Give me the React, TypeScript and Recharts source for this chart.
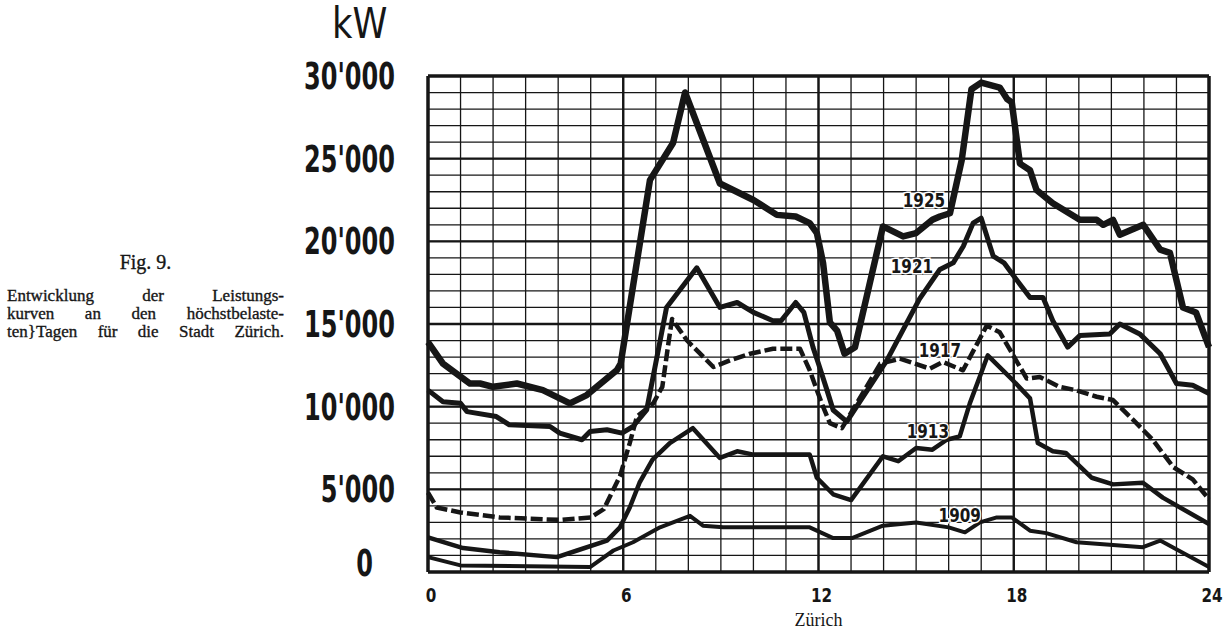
import React from 'react';
import {
  LineChart,
  Line,
  XAxis,
  YAxis,
  CartesianGrid,
  ReferenceLine,
  ReferenceDot,
} from 'recharts';

// hours of the day and load in kW
const hours1925 = [0, 0.46, 1.29, 1.6, 2.0, 2.73, 3.53, 4.36, 4.88, 5.8, 5.92, 6.82, 7.53, 7.9, 8.97, 10.0, 10.72, 11.3, 11.73, 11.95, 12.14, 12.35, 12.57, 12.8, 13.12, 13.98, 14.6, 15.0, 15.5, 15.73, 16.04, 16.4, 16.7, 17.0, 17.57, 17.8, 17.94, 18.19, 18.5, 18.7, 19.2, 20.03, 20.55, 20.75, 21.05, 21.26, 21.98, 22.5, 22.8, 23.2, 23.6, 24];
const kw1925 = [13900, 12600, 11400, 11400, 11200, 11400, 11000, 10200, 10700, 12200, 12600, 23700, 25950, 29000, 23500, 22500, 21600, 21500, 21100, 20500, 18700, 15100, 14600, 13200, 13600, 20900, 20300, 20500, 21300, 21500, 21700, 24900, 29200, 29600, 29300, 28600, 28400, 24700, 24300, 23100, 22300, 21300, 21300, 21000, 21300, 20400, 21000, 19500, 19300, 16000, 15700, 13600];

const hours1921 = [0, 0.46, 1.0, 1.2, 2.1, 2.5, 3.75, 4.05, 4.73, 4.98, 5.5, 5.96, 6.3, 6.72, 7.33, 8.26, 8.97, 9.5, 10.0, 10.6, 10.85, 11.3, 11.55, 11.83, 12.0, 12.26, 12.45, 12.87, 14.1, 15.1, 15.73, 16.14, 16.45, 16.75, 17.0, 17.37, 17.7, 18.0, 18.5, 18.9, 19.2, 19.66, 20.03, 20.95, 21.26, 21.87, 22.5, 23.0, 23.5, 24];
const kw1921 = [11000, 10300, 10200, 9700, 9400, 8900, 8800, 8400, 8000, 8500, 8600, 8400, 8800, 9800, 16000, 18400, 16000, 16300, 15700, 15200, 15200, 16300, 15700, 13600, 12600, 11000, 9800, 9100, 12800, 16500, 18300, 18700, 19700, 21100, 21400, 19100, 18700, 17900, 16600, 16600, 15200, 13600, 14300, 14400, 15000, 14400, 13200, 11400, 11300, 10800];

const hours1917 = [0, 0.27, 1.0, 2.2, 4.05, 5.0, 5.4, 5.7, 5.9, 6.2, 6.42, 6.92, 7.2, 7.4, 7.5, 7.96, 8.77, 9.28, 9.9, 10.6, 11.43, 11.73, 11.95, 12.14, 12.35, 12.72, 13.9, 14.5, 15.42, 15.82, 16.44, 17.17, 17.57, 18.4, 18.8, 19.4, 19.9, 20.55, 21.05, 21.67, 22.27, 22.9, 23.5, 24];
const kw1917 = [4800, 3900, 3600, 3300, 3150, 3300, 3800, 5000, 5800, 7800, 9400, 10200, 11200, 14000, 15300, 14000, 12400, 12800, 13200, 13500, 13500, 12200, 11000, 10000, 9000, 8700, 12600, 12900, 12300, 12700, 12200, 14900, 14500, 11700, 11800, 11200, 11000, 10600, 10400, 9200, 8000, 6350, 5600, 4400];

const hours1913 = [0, 1.08, 2.2, 3.96, 4.58, 5.5, 5.9, 6.2, 6.5, 6.9, 7.43, 8.14, 8.97, 9.5, 10.0, 11.73, 11.95, 12.45, 13.0, 13.98, 14.45, 15.0, 15.5, 15.94, 16.34, 16.65, 17.2, 17.97, 18.5, 18.74, 19.2, 19.6, 20.4, 21.05, 21.97, 22.58, 24];
const kw1913 = [2100, 1450, 1200, 900, 1300, 1900, 2700, 3900, 5400, 6800, 7800, 8700, 6900, 7300, 7100, 7100, 5700, 4700, 4350, 7000, 6700, 7500, 7400, 8000, 8200, 10200, 13100, 11600, 10500, 7800, 7300, 7200, 5700, 5300, 5400, 4500, 2900];

const hours1909 = [0, 1.0, 4.98, 5.7, 6.3, 7.13, 8.05, 8.45, 9.07, 11.73, 12.45, 13.03, 13.98, 15.0, 16.0, 16.5, 16.96, 17.48, 17.94, 18.5, 19.0, 19.93, 21.97, 22.5, 24];
const kw1909 = [900, 400, 300, 1300, 1800, 2700, 3400, 2800, 2700, 2700, 2050, 2050, 2800, 3000, 2700, 2400, 3000, 3300, 3300, 2500, 2350, 1800, 1500, 1900, 300];

// curve labels: text, hour, kW
const curveNames = ['1925', '1921', '1917', '1913', '1909'];
const nameHours = [15.24, 14.87, 15.73, 15.36, 16.34];
const nameKw = [22500, 18500, 13400, 8500, 3400];

// grid every hour / every 1000 kW, labels every 6 h / 5000 kW
const hourTicks = [0, 1, 2, 3, 4, 5, 6, 7, 8, 9, 10, 11, 12, 13, 14, 15, 16, 17, 18, 19, 20, 21, 22, 23, 24];
const hourLabels = [0, 6, 12, 18, 24];
const kwTicks = [0, 1000, 2000, 3000, 4000, 5000, 6000, 7000, 8000, 9000, 10000, 11000, 12000, 13000, 14000, 15000, 16000, 17000, 18000, 19000, 20000, 21000, 22000, 23000, 24000, 25000, 26000, 27000, 28000, 29000, 30000];
const kwMajor = [0, 5000, 10000, 15000, 20000, 25000, 30000];
const kwLabels = ['0', "5'000", "10'000", "15'000", "20'000", "25'000", "30'000"];

const captionLines = ['Entwicklung der Leistungs-', 'kurven an den höchstbelaste-', 'ten}Tagen für die Stadt Zürich.'];

const INK = '#161616';
const NUM_FONT = '"DejaVu Sans", sans-serif';
const SERIF = '"Liberation Serif", "DejaVu Serif", serif';

const toRows = (hours: number[], kw: number[]) => hours.map((h, i) => ({ h, kw: kw[i] }));

function KwTick({ x, y, payload }: any) {
  const i = kwMajor.indexOf(payload.value);
  if (i < 0) return null;
  // the printed zero sits a bit left of and above the others
  const dx = payload.value === 0 ? -22 : 0;
  const dy = payload.value === 0 ? -9 : 0;
  return (
    <text
      transform={`translate(${x + dx},${y + dy}) scale(0.65,1)`}
      textAnchor="end"
      dominantBaseline="central"
      fontFamily={NUM_FONT}
      fontWeight={700}
      fontSize={37}
      fill={INK}
    >
      {kwLabels[i]}
    </text>
  );
}

function HourTick({ x, y, payload }: any) {
  if (!hourLabels.includes(payload.value)) return null;
  return (
    <text
      transform={`translate(${x + 3},${y}) scale(0.8,1)`}
      textAnchor="middle"
      dominantBaseline="central"
      fontFamily={NUM_FONT}
      fontWeight={700}
      fontSize={19}
      fill={INK}
    >
      {payload.value}
    </text>
  );
}

function CurveName({ cx, cy, text }: { cx?: number; cy?: number; text: string }) {
  if (cx == null || cy == null) return null;
  return (
    <text
      transform={`translate(${cx},${cy}) scale(0.8,1)`}
      textAnchor="middle"
      dominantBaseline="central"
      fontFamily={NUM_FONT}
      fontWeight={700}
      fontSize={19}
      fill={INK}
      stroke="#fff"
      strokeWidth={3}
      paintOrder="stroke"
    >
      {text}
    </text>
  );
}

export default function App() {
  const series = [
    { key: '1925', rows: toRows(hours1925, kw1925), width: 6.5, dash: undefined },
    { key: '1921', rows: toRows(hours1921, kw1921), width: 5, dash: undefined },
    { key: '1917', rows: toRows(hours1917, kw1917), width: 4.5, dash: '12 4' },
    { key: '1913', rows: toRows(hours1913, kw1913), width: 4.5, dash: undefined },
    { key: '1909', rows: toRows(hours1909, kw1909), width: 4, dash: undefined },
  ];

  return (
    <div style={{ position: 'absolute', left: 0, top: 0, width: 1228, height: 633, background: '#fff' }}>
      {/* caption on the left */}
      <div
        style={{
          position: 'absolute',
          left: 7,
          top: 252,
          width: 277,
          fontFamily: SERIF,
          color: INK,
          fontSize: 17,
          lineHeight: '18px',
          WebkitTextStroke: '0.35px #161616',
        }}
      >
        <div style={{ textAlign: 'center', fontSize: 20, lineHeight: '21px', marginBottom: 14 }}>Fig. 9.</div>
        {captionLines.map((t) => (
          <div key={t} style={{ textAlign: 'justify', textAlignLast: 'justify', whiteSpace: 'nowrap' }}>{t}</div>
        ))}
      </div>
      <div
        style={{
          position: 'absolute',
          left: 332,
          top: 2,
          fontFamily: NUM_FONT,
          fontSize: 43,
          lineHeight: '43px',
          color: INK,
          transform: 'scaleX(0.82)',
          transformOrigin: 'left top',
        }}
      >
        kW
      </div>

      <LineChart width={1228} height={633} margin={{ top: 76, right: 19, left: 300, bottom: 0 }}>
        <CartesianGrid stroke={INK} strokeWidth={1.3} />
        <XAxis
          type="number"
          dataKey="h"
          domain={[0, 24]}
          ticks={hourTicks}
          interval={0}
          axisLine={false}
          tickLine={false}
          tickSize={21}
          tickMargin={2}
          height={61}
          tick={<HourTick />}
          label={{ value: 'Zürich', position: 'insideBottom', offset: 7, fill: INK, fontFamily: SERIF, fontSize: 18 }}
        />
        <YAxis
          type="number"
          domain={[0, 30000]}
          ticks={kwTicks}
          interval={0}
          width={128}
          axisLine={false}
          tickLine={false}
          tickSize={31}
          tickMargin={2}
          tick={<KwTick />}
        />

        {[6, 12, 18].map((h) => (
          <ReferenceLine key={`vx${h}`} x={h} stroke={INK} strokeWidth={2.4} />
        ))}
        {kwMajor.slice(1, -1).map((k) => (
          <ReferenceLine key={`hy${k}`} y={k} stroke={INK} strokeWidth={2.4} />
        ))}
        <ReferenceLine x={0} stroke={INK} strokeWidth={3.5} />
        <ReferenceLine x={24} stroke={INK} strokeWidth={3.5} />
        <ReferenceLine y={0} stroke={INK} strokeWidth={3.5} />
        <ReferenceLine y={30000} stroke={INK} strokeWidth={3.5} />

        {series.map((s) => (
          <Line
            key={s.key}
            data={s.rows}
            dataKey="kw"
            type="linear"
            stroke={INK}
            strokeWidth={s.width}
            strokeDasharray={s.dash}
            strokeLinejoin="round"
            dot={false}
            activeDot={false}
            isAnimationActive={false}
          />
        ))}

        {curveNames.map((name, i) => (
          <ReferenceDot
            key={`n${name}`}
            x={nameHours[i]}
            y={nameKw[i]}
            r={0}
            shape={(p: any) => <CurveName cx={p.cx} cy={p.cy} text={name} />}
          />
        ))}
      </LineChart>
    </div>
  );
}
